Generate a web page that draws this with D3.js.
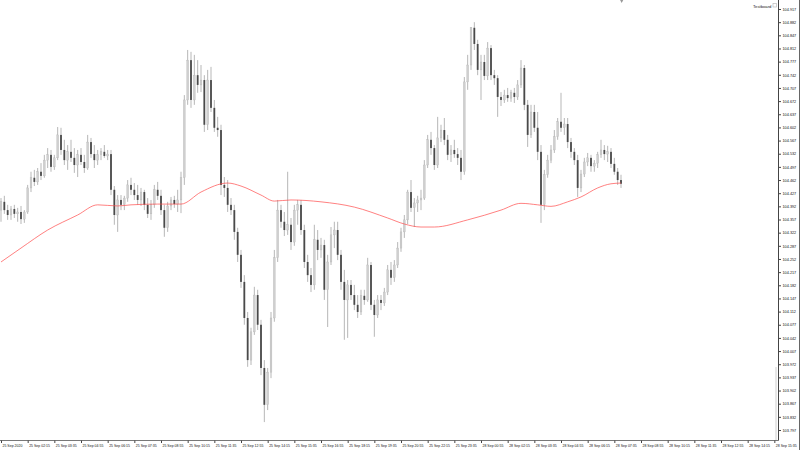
<!DOCTYPE html>
<html><head><meta charset="utf-8">
<script src="https://cdn.jsdelivr.net/npm/d3@7"></script>
<style>html,body{margin:0;padding:0;background:#fff;}svg{display:block}</style>
</head><body>
<svg id="chart" width="800" height="450"></svg>
<script>
// ---- data (10-minute bars, 25 Sep 2020 00:55 onward) ----
const open = [
104.382,104.404,104.382,104.369,104.385,104.372,104.377,104.358,104.377,104.441,
104.468,104.457,104.484,104.473,104.515,104.529,104.497,104.521,104.582,104.542,
104.515,104.537,104.521,104.502,104.529,104.510,104.494,104.563,104.531,104.515,
104.529,104.537,104.526,104.531,104.436,104.369,104.409,104.396,104.414,104.449,
104.436,104.422,104.409,104.430,104.396,104.372,104.396,104.436,104.420,104.382,
104.335,104.393,104.409,104.398,104.409,104.468,104.675,104.781,104.675,104.741,
104.715,104.728,104.609,104.728,104.654,104.601,104.595,104.449,104.441,104.396,
104.382,104.324,104.263,104.191,104.095,103.983,104.058,104.156,104.077,103.962,
103.864,103.951,104.095,104.255,104.382,104.351,104.329,104.343,104.297,104.382,
104.396,104.329,104.244,104.209,104.183,104.303,104.276,104.289,104.170,104.244,
104.316,104.329,104.263,104.191,104.143,104.183,104.156,104.130,104.111,104.154,
104.143,104.236,104.130,104.103,104.143,104.135,104.164,104.223,104.202,104.236,
104.281,104.324,104.356,104.430,104.388,104.401,104.409,104.414,104.502,104.569,
104.547,104.502,104.574,104.595,104.569,104.529,104.542,104.531,104.521,104.484,
104.723,104.768,104.867,104.824,104.755,104.776,104.739,104.813,104.741,104.733,
104.683,104.675,104.688,104.680,104.694,104.683,104.715,104.760,104.662,104.582,
104.643,104.601,104.537,104.396,104.476,104.515,104.542,104.577,104.617,104.601,
104.611,104.563,104.537,104.515,104.441,104.478,104.510,104.521,104.499,104.507,
104.529,104.542,104.531,104.537,104.505,104.484,104.462];
const high = [
104.414,104.420,104.396,104.393,104.396,104.388,104.393,104.382,104.449,104.484,
104.489,104.494,104.507,104.529,104.547,104.542,104.529,104.603,104.601,104.569,
104.555,104.569,104.547,104.542,104.547,104.529,104.582,104.574,104.555,104.542,
104.547,104.555,104.542,104.542,104.446,104.422,104.422,104.420,104.462,104.468,
104.454,104.449,104.441,104.436,104.414,104.409,104.449,104.457,104.436,104.396,
104.404,104.417,104.420,104.436,104.484,104.688,104.808,104.803,104.795,104.781,
104.768,104.741,104.755,104.763,104.675,104.630,104.609,104.470,104.462,104.414,
104.396,104.335,104.276,104.209,104.111,104.069,104.178,104.170,104.090,103.983,
103.962,104.111,104.276,104.409,104.396,104.377,104.484,104.361,104.396,104.409,
104.409,104.343,104.263,104.228,104.343,104.329,104.308,104.303,104.263,104.337,
104.351,104.351,104.276,104.223,104.196,104.196,104.183,104.156,104.170,104.170,
104.255,104.244,104.143,104.156,104.156,104.175,104.236,104.244,104.249,104.297,
104.335,104.369,104.436,104.462,104.414,104.420,104.436,104.515,104.582,104.590,
104.555,104.630,104.609,104.627,104.582,104.555,104.569,104.547,104.542,104.736,
104.795,104.869,104.882,104.835,104.795,104.795,104.829,104.821,104.755,104.741,
104.696,104.702,104.707,104.702,104.707,104.728,104.781,104.768,104.675,104.662,
104.662,104.643,104.555,104.489,104.529,104.555,104.595,104.627,104.694,104.627,
104.627,104.574,104.547,104.529,104.489,104.521,104.534,104.529,104.515,104.537,
104.569,104.555,104.553,104.547,104.521,104.494,104.476];
const low = [
104.351,104.372,104.356,104.356,104.361,104.351,104.345,104.348,104.372,104.430,
104.446,104.449,104.462,104.468,104.494,104.484,104.489,104.515,104.529,104.502,
104.489,104.510,104.481,104.470,104.502,104.481,104.489,104.521,104.494,104.502,
104.515,104.521,104.515,104.422,104.343,104.324,104.382,104.382,104.404,104.422,
104.409,104.396,104.393,104.382,104.361,104.356,104.388,104.409,104.369,104.311,
104.324,104.382,104.388,104.377,104.374,104.449,104.662,104.654,104.662,104.694,
104.696,104.590,104.595,104.643,104.590,104.577,104.422,104.417,104.377,104.369,
104.303,104.244,104.175,104.077,103.965,103.970,104.050,104.063,103.943,103.818,
103.850,103.935,104.085,104.244,104.335,104.313,104.316,104.276,104.287,104.343,
104.316,104.228,104.191,104.164,104.170,104.249,104.255,104.143,104.071,104.236,
104.281,104.249,104.170,104.037,104.042,104.143,104.116,104.095,104.103,104.130,
104.138,104.116,104.045,104.095,104.116,104.127,104.156,104.183,104.191,104.228,
104.271,104.308,104.345,104.377,104.337,104.377,104.382,104.409,104.494,104.529,
104.489,104.494,104.563,104.555,104.515,104.510,104.521,104.502,104.462,104.476,
104.702,104.755,104.808,104.741,104.675,104.728,104.728,104.728,104.715,104.630,
104.659,104.667,104.670,104.670,104.667,104.675,104.707,104.648,104.550,104.574,
104.590,104.515,104.348,104.382,104.468,104.507,104.534,104.569,104.590,104.582,
104.547,104.521,104.502,104.417,104.430,104.470,104.499,104.484,104.484,104.494,
104.521,104.515,104.510,104.494,104.476,104.449,104.441];
const close = [
104.404,104.382,104.369,104.385,104.372,104.377,104.358,104.377,104.441,104.468,
104.457,104.484,104.473,104.515,104.529,104.497,104.521,104.582,104.542,104.515,
104.537,104.521,104.502,104.529,104.510,104.494,104.563,104.531,104.515,104.529,
104.537,104.526,104.531,104.436,104.369,104.409,104.396,104.414,104.449,104.436,
104.422,104.409,104.430,104.396,104.372,104.396,104.436,104.420,104.382,104.335,
104.393,104.409,104.398,104.409,104.468,104.675,104.781,104.675,104.741,104.715,
104.728,104.609,104.728,104.654,104.601,104.595,104.449,104.441,104.396,104.382,
104.324,104.263,104.191,104.095,103.983,104.058,104.156,104.077,103.962,103.864,
103.951,104.095,104.255,104.382,104.351,104.329,104.343,104.297,104.382,104.396,
104.329,104.244,104.209,104.183,104.303,104.276,104.289,104.170,104.244,104.316,
104.329,104.263,104.191,104.143,104.183,104.156,104.130,104.111,104.154,104.143,
104.236,104.130,104.103,104.143,104.135,104.164,104.223,104.202,104.236,104.281,
104.324,104.356,104.430,104.388,104.401,104.409,104.414,104.502,104.569,104.547,
104.502,104.574,104.595,104.569,104.529,104.542,104.531,104.521,104.484,104.723,
104.768,104.867,104.824,104.755,104.776,104.739,104.813,104.741,104.733,104.683,
104.675,104.688,104.680,104.694,104.683,104.715,104.760,104.662,104.582,104.643,
104.601,104.537,104.396,104.476,104.515,104.542,104.577,104.617,104.601,104.611,
104.563,104.537,104.515,104.441,104.478,104.510,104.521,104.499,104.507,104.529,
104.542,104.531,104.537,104.505,104.484,104.462,104.452];

// moving average, read at selected bars
const maBar = [0,6,14,23,29,35,39,47,54,60,68,72,78,82,87,96,106,116,121,126,130,140,150,156,161,165,170,174,179,183,186];
const maValue = [104.244,104.281,104.329,104.369,104.396,104.393,104.396,104.398,104.398,104.430,104.454,104.446,104.422,104.406,104.409,104.404,104.390,104.361,104.345,104.337,104.337,104.356,104.382,104.400,104.396,104.392,104.404,104.417,104.441,104.452,104.454];

const yTickValues = [104.917,104.882,104.847,104.812,104.777,104.742,104.707,104.672,104.637,104.602,104.567,104.532,104.497,104.462,104.427,104.392,104.357,104.322,104.287,104.252,104.217,104.182,104.147,104.112,104.077,104.042,104.007,103.972,103.937,103.902,103.867,103.832,103.797];
const xTickLabels = ["25 Sep 2020","25 Sep 02:15","25 Sep 03:35","25 Sep 04:55","25 Sep 06:15","25 Sep 07:35","25 Sep 08:55","25 Sep 10:15","25 Sep 11:35","25 Sep 12:55","25 Sep 14:15","25 Sep 15:35","25 Sep 16:55","25 Sep 18:15","25 Sep 19:35","25 Sep 20:55","25 Sep 22:15","25 Sep 23:35","28 Sep 00:55","28 Sep 02:15","28 Sep 03:35","28 Sep 04:55","28 Sep 06:15","28 Sep 07:35","28 Sep 08:55","28 Sep 10:15","28 Sep 11:35","28 Sep 12:55","28 Sep 14:15","28 Sep 15:35"];
const barsPerLabel = 8;
const totalSlots = 233.4;
const symbolName = "Testboard";

// ---- drawing ----
const svg = d3.select("#chart");
const font = "'Liberation Sans', Arial, sans-serif";
const axisX = 778.5, axisY = 440.5;
const x = d3.scaleLinear().domain([0, totalSlots]).range([1, 779]);
const y = d3.scaleLinear().domain([103.797, 104.917]).range([430, 9]);

svg.append("rect").attr("width",800).attr("height",450).attr("fill","#fff");

const bars = close.map((c,i)=>({i, o:open[i], h:high[i], l:low[i], c}));
const g = svg.append("g");
g.selectAll("line.wick").data(bars).join("line").attr("class","wick")
  .attr("x1",d=>x(d.i)).attr("x2",d=>x(d.i))
  .attr("y1",d=>y(d.h)).attr("y2",d=>y(d.l))
  .attr("stroke","#a4a4a4").attr("stroke-width",0.8);
g.selectAll("rect.body").data(bars).join("rect").attr("class","body")
  .attr("x",d=>x(d.i)-0.9).attr("width",1.8)
  .attr("y",d=>y(Math.max(d.o,d.c)))
  .attr("height",d=>Math.max(0.8, Math.abs(y(d.o)-y(d.c))))
  .attr("fill",d=>d.c>=d.o ? "#cfcfcf" : "#4a4a4a")
  .attr("stroke",d=>d.c>=d.o ? "#b0b0b0" : "none").attr("stroke-width",0.3);

const ma = maBar.map((b,k)=>({i:b, v:maValue[k]}));
svg.append("path").datum(ma)
  .attr("d", d3.line().x(d=>x(d.i)).y(d=>y(d.v)).curve(d3.curveMonotoneX))
  .attr("fill","none").attr("stroke","#ff4a4a").attr("stroke-width",0.7);

// frame
svg.append("line").attr("x1",axisX).attr("x2",axisX).attr("y1",0).attr("y2",axisY).attr("stroke","#444").attr("stroke-width",1);
svg.append("line").attr("x1",0).attr("x2",axisX).attr("y1",axisY).attr("y2",axisY).attr("stroke","#555").attr("stroke-width",0.8);
svg.append("line").attr("x1",799.5).attr("x2",799.5).attr("y1",0).attr("y2",450).attr("stroke","#666").attr("stroke-width",1);
svg.append("line").attr("x1",776).attr("x2",776).attr("y1",367).attr("y2",440).attr("stroke","#cfcfcf").attr("stroke-width",1);

// y axis
const yAxis = d3.axisRight(y).tickValues(yTickValues).tickFormat(d3.format(".3f")).tickSize(2.5).tickPadding(1.5);
const ya = svg.append("g").attr("transform",`translate(${axisX},0)`).call(yAxis);
ya.select(".domain").remove();
ya.selectAll("line").attr("stroke","#444");
ya.selectAll("text").attr("font-family",font).attr("font-size",3.8).attr("fill","#111");

// x axis
const xAxis = d3.axisBottom(x).tickValues(xTickLabels.map((_,k)=>k*barsPerLabel))
  .tickFormat((d,k)=>xTickLabels[k]).tickSize(2.5).tickPadding(1.6);
const xa = svg.append("g").attr("transform",`translate(0,${axisY})`).call(xAxis);
xa.select(".domain").remove();
xa.selectAll("line").attr("stroke","#444");
xa.selectAll("text").attr("font-family",font).attr("font-size",3.5).attr("fill","#111")
  .attr("text-anchor","start").attr("dx",1);

// symbol label + shift marker
svg.append("text").attr("x",753).attr("y",7.5).text(symbolName)
  .attr("font-family",font).attr("font-size",4.2).attr("fill","#222");
svg.append("rect").attr("x",773).attr("y",3.5).attr("width",3.5).attr("height",3.5).attr("fill","none").attr("stroke","#bbb").attr("stroke-width",0.7);
svg.append("path").attr("d",`M${x(186.2)-1.6},0 L${x(186.2)+1.6},0 L${x(186.2)},3 Z`).attr("fill","#999");
</script>
</body></html>
